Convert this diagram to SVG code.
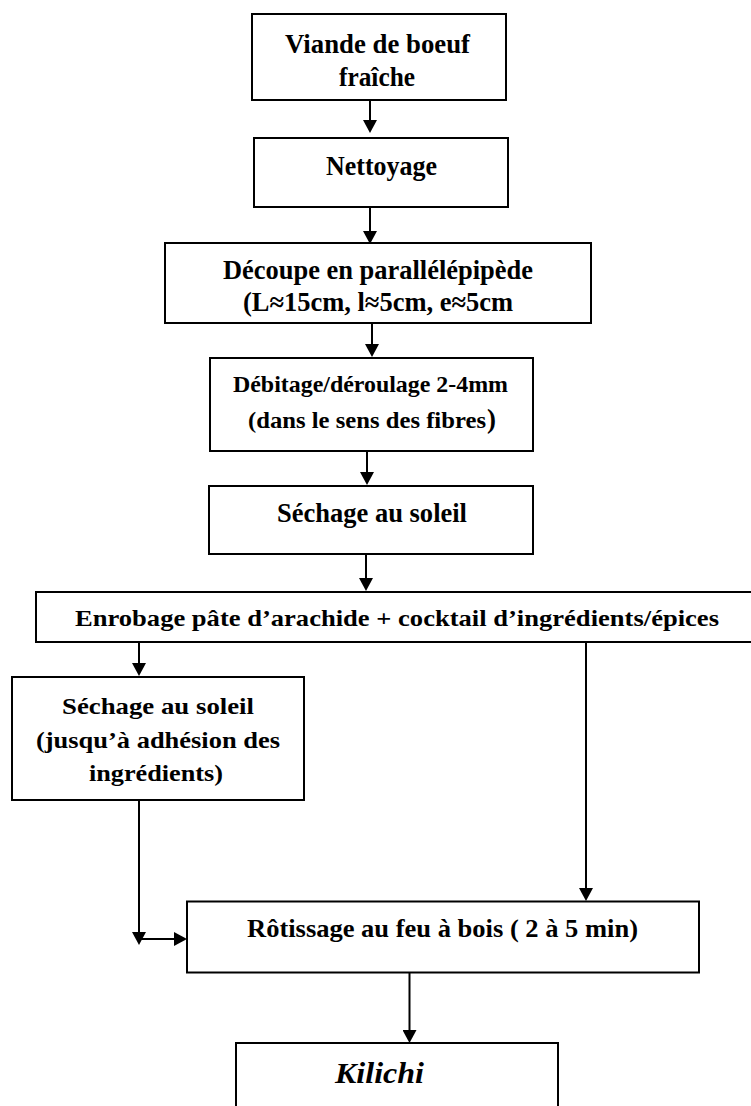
<svg xmlns="http://www.w3.org/2000/svg" width="751" height="1106" viewBox="0 0 751 1106">
<style>
.box{fill:#fff;stroke:#000;stroke-width:2}
.t{font-family:"Liberation Serif","Times New Roman",serif;font-weight:bold;fill:#000}
.c{stroke:#000;stroke-width:2;fill:none}
.a{marker-end:url(#ah)}
</style>
<defs>
<marker id="ah" markerUnits="userSpaceOnUse" markerWidth="14" markerHeight="14" refX="3" refY="7" orient="auto">
<path d="M0,0 L13,7 L0,14 z" fill="#000"/>
</marker>
</defs>
<rect width="751" height="1106" fill="#fff"/>
<g id="connectors">
<line class="c a" x1="370" y1="100" x2="370" y2="123"/>
<line class="c a" x1="370" y1="207" x2="370" y2="234"/>
<line class="c a" x1="372" y1="323" x2="372" y2="347"/>
<line class="c a" x1="367" y1="451" x2="367" y2="475"/>
<line class="c a" x1="366" y1="554" x2="366" y2="581"/>
<line class="c a" x1="139" y1="642" x2="139" y2="666"/>
<line class="c a" x1="586" y1="642" x2="586" y2="891"/>
<line class="c a" x1="139" y1="800" x2="139" y2="935"/>
<line class="c a" x1="139" y1="939" x2="177" y2="939"/>
<line class="c a" x1="409.5" y1="973" x2="409.5" y2="1033"/>
</g>
<g id="n1">
<rect class="box" x="252" y="14" width="254" height="86"/>
<text class="t" x="285" y="53" font-size="28" textLength="185" lengthAdjust="spacingAndGlyphs">Viande de boeuf</text>
<text class="t" x="339" y="86" font-size="28" textLength="76" lengthAdjust="spacingAndGlyphs">fraîche</text>
</g>
<g id="n2">
<rect class="box" x="254" y="138" width="254" height="69"/>
<text class="t" x="326" y="175" font-size="27" textLength="111" lengthAdjust="spacingAndGlyphs">Nettoyage</text>
</g>
<g id="n3">
<rect class="box" x="165" y="243" width="426" height="80"/>
<text class="t" x="223" y="279" font-size="26.5" textLength="310" lengthAdjust="spacingAndGlyphs">Découpe en parallélépipède</text>
<text class="t" x="243" y="311" font-size="26.5" textLength="270" lengthAdjust="spacingAndGlyphs">(L≈15cm, l≈5cm, e≈5cm</text>
</g>
<g id="n4">
<rect class="box" x="210" y="358" width="323" height="93"/>
<text class="t" x="233" y="392" font-size="22.5" textLength="275" lengthAdjust="spacingAndGlyphs">Débitage/déroulage 2-4mm</text>
<text class="t" x="248" y="428" font-size="22.5" textLength="238" lengthAdjust="spacingAndGlyphs">(dans le sens des fibres</text>
<text class="t" x="487" y="428" font-size="27">)</text>
</g>
<g id="n5">
<rect class="box" x="209" y="486" width="324" height="68"/>
<text class="t" x="277" y="522" font-size="26.5" textLength="190" lengthAdjust="spacingAndGlyphs">Séchage au soleil</text>
</g>
<g id="n6">
<rect class="box" x="36" y="592" width="716" height="50"/>
<text class="t" x="75" y="626" font-size="24" textLength="644" lengthAdjust="spacingAndGlyphs">Enrobage pâte d’arachide + cocktail d’ingrédients/épices</text>
</g>
<g id="n7">
<rect class="box" x="12" y="677" width="292" height="123"/>
<text class="t" x="62" y="714" font-size="24" textLength="192" lengthAdjust="spacingAndGlyphs">Séchage au soleil</text>
<text class="t" x="36" y="748" font-size="24" textLength="244" lengthAdjust="spacingAndGlyphs">(jusqu’à adhésion des</text>
<text class="t" x="89" y="781" font-size="24" textLength="134" lengthAdjust="spacingAndGlyphs">ingrédients)</text>
</g>
<g id="n8">
<rect class="box" x="187" y="901.5" width="512" height="71"/>
<text class="t" x="247" y="937" font-size="25" textLength="391" lengthAdjust="spacingAndGlyphs">Rôtissage au feu à bois ( 2 à 5 min)</text>
</g>
<g id="n9">
<rect class="box" x="236" y="1043" width="322" height="80"/>
<text class="t" x="335" y="1083" font-size="30" font-style="italic" textLength="89" lengthAdjust="spacingAndGlyphs">Kilichi</text>
</g>
</svg>
